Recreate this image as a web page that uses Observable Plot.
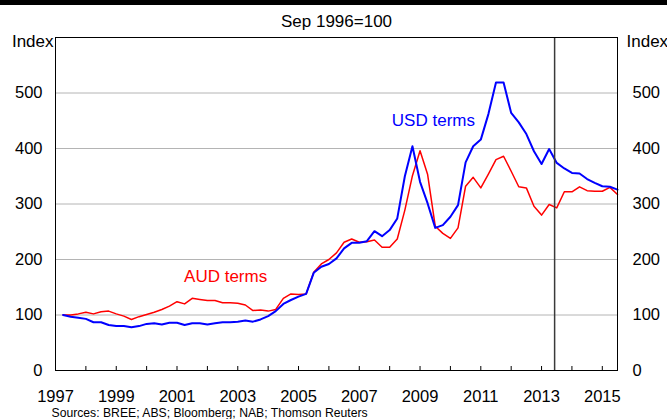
<!DOCTYPE html>
<html>
<head>
<meta charset="utf-8">
<script src="https://cdn.jsdelivr.net/npm/d3@7"></script>
<script src="https://cdn.jsdelivr.net/npm/@observablehq/plot@0.6"></script>
<style>
  body { margin: 0; background: #fff; }
  #wrap { position: relative; width: 667px; height: 419px; overflow: hidden; }
  #bar { position: absolute; left: 0; top: 0; width: 667px; height: 5px; background: #000; }
  svg { font-family: "Liberation Sans", Arial, sans-serif; }
</style>
</head>
<body>
<div id="wrap"><div id="bar"></div></div>
<script>
// Quarterly index, Sep 1996 = 100 (first observation Mar quarter 1997)
const firstQuarter = 1997.25;
const usdTerms = [
  100, 97, 95, 93, 87, 87, 82, 80, 80, 78,
  80, 84, 85, 83, 86, 86, 82, 85, 85, 83,
  85, 87, 87, 88, 90, 88, 92, 98, 107, 120,
  127, 133, 138, 176, 187, 192, 202, 220, 230, 230,
  233, 251, 242, 253, 274, 350, 404, 340, 301, 257,
  262, 277, 298, 375, 404, 416, 462, 519, 519, 464,
  447, 426, 395, 372, 399, 374, 364, 356, 355, 345,
  338, 332, 331, 326
];
const audTerms = [
  100, 100, 102, 105, 102, 106, 107, 102, 98, 92,
  97, 101, 105, 110, 116, 124, 120, 130, 128, 126,
  126, 122, 122, 121, 118, 108, 109, 107, 110, 130,
  138, 137, 138, 177, 192, 200, 212, 231, 237, 231,
  232, 235, 222, 222, 237, 289, 351, 396, 353, 260,
  247, 238, 257, 332, 348, 329, 354, 380, 386, 359,
  331, 329, 296, 280, 299, 293, 322, 322, 331, 324,
  323, 323, 330, 317
];
const yTicks = [0, 100, 200, 300, 400, 500];
const gridValues = [100, 200, 300, 400, 500];
const xLabelYears = [1997, 1999, 2001, 2003, 2005, 2007, 2009, 2011, 2013, 2015];
const xTickYears = [1998, 1999, 2000, 2001, 2002, 2003, 2004, 2005, 2006, 2007, 2008, 2009, 2010, 2011, 2012, 2013, 2014, 2015];
const markerDate = [2013.43];
const seriesLabels = [
  {text: "USD terms", t: 2009.44, v: 450, color: "#0000ff"},
  {text: "AUD terms", t: 2002.6, v: 169, color: "#ff0000"}
];
const subtitle = "Sep 1996=100";
const unitLabel = "Index";
const sourceNote = "Sources: BREE; ABS; Bloomberg; NAB; Thomson Reuters";

const rows = usdTerms.map((u, i) => ({t: firstQuarter + i / 4, usd: u, aud: audTerms[i]}));

const chart = Plot.plot({
  width: 667,
  height: 419,
  marginLeft: 55,
  marginRight: 50,
  marginTop: 37,
  marginBottom: 49,
  style: {fontFamily: "Liberation Sans, Arial, sans-serif", color: "#000", background: "transparent"},
  x: {domain: [1997, 2015.5]},
  y: {domain: [0, 600]},
  marks: [
    Plot.ruleY(gridValues, {stroke: "#b4b4b4", strokeWidth: 1}),
    Plot.ruleX(xTickYears, {x: d => d, y1: 0, y2: 0, insetTop: -4, stroke: "#000", strokeWidth: 1}),
    Plot.line(rows, {x: "t", y: "aud", stroke: "#ff0000", strokeWidth: 1.5}),
    Plot.line(rows, {x: "t", y: "usd", stroke: "#0000ff", strokeWidth: 2}),
    Plot.ruleX(markerDate, {stroke: "#3a3a3a", strokeWidth: 1.5}),
    Plot.frame({stroke: "#000", strokeWidth: 1}),
    Plot.axisY({ticks: yTicks, tickSize: 0, tickPadding: 13, fontSize: 16.5, label: null, anchor: "left"}),
    Plot.axisY({ticks: yTicks, tickSize: 0, tickPadding: 15, fontSize: 16.5, label: null, anchor: "right"}),
    Plot.axisX({ticks: xLabelYears, tickSize: 0, tickPadding: 20, fontSize: 16.5, label: null, tickFormat: d => String(d)}),
    Plot.text(seriesLabels, {x: "t", y: "v", text: "text", fill: "color", fontSize: 17}),
    Plot.text([subtitle], {frameAnchor: "top", dy: -16, lineAnchor: "middle", fontSize: 17, fill: "#000"}),
    Plot.text([unitLabel], {frameAnchor: "top-left", textAnchor: "end", dx: -2, dy: 4.5, lineAnchor: "middle", fontSize: 17, fill: "#000"}),
    Plot.text([unitLabel], {frameAnchor: "top-right", textAnchor: "start", dx: 9, dy: 4.5, lineAnchor: "middle", fontSize: 17, fill: "#000"}),
    Plot.text([sourceNote], {frameAnchor: "bottom-left", textAnchor: "start", dx: -4, dy: 42.5, lineAnchor: "middle", fontSize: 12.2, fill: "#000"})
  ]
});
document.getElementById("wrap").appendChild(chart);
</script>
</body>
</html>
